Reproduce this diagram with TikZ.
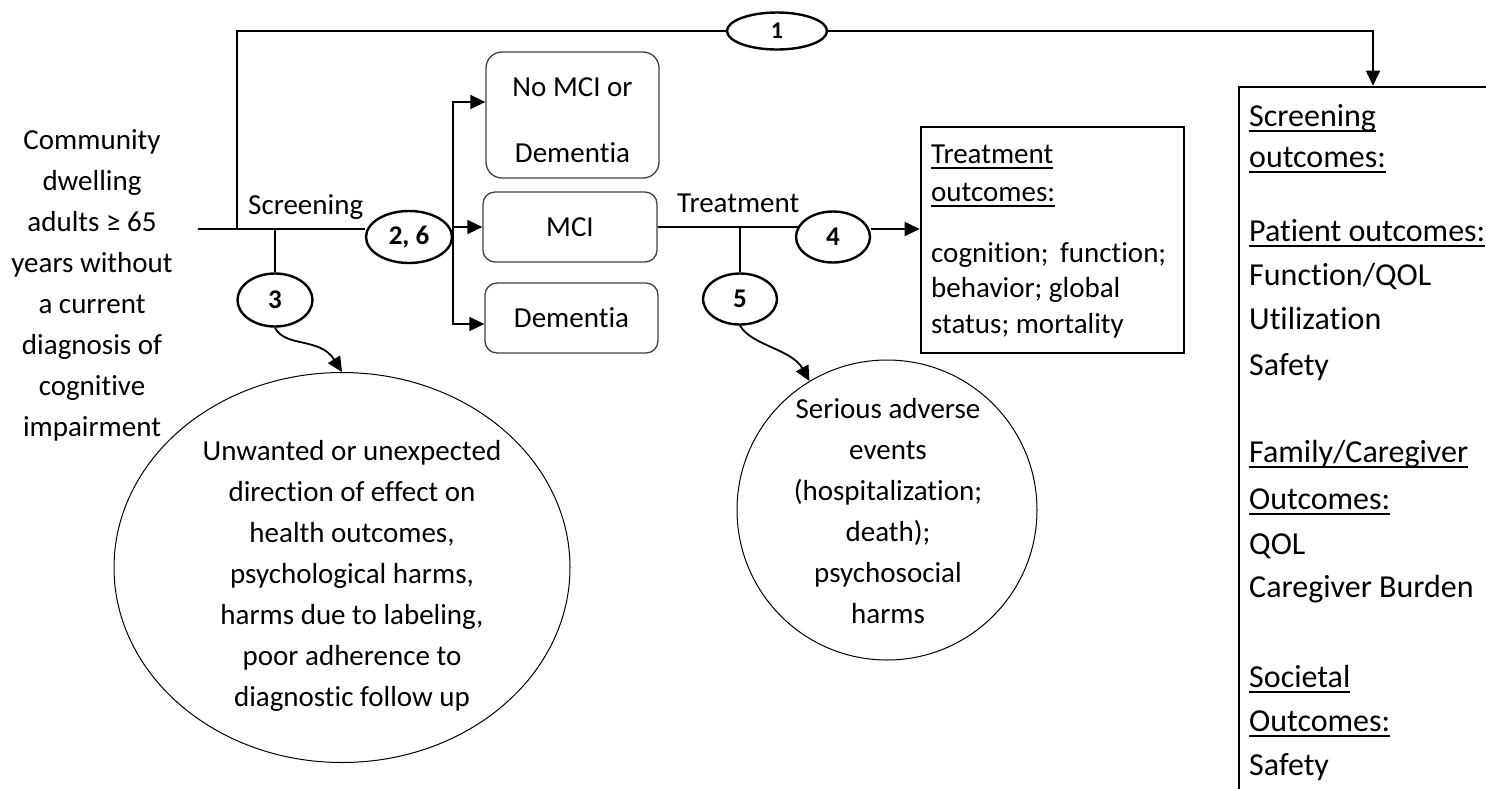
\documentclass[tikz,border=0pt]{standalone}
\usepackage{fontspec}
\setmainfont{Carlito}[Ligatures=NoCommon]
\usetikzlibrary{arrows.meta,shapes.geometric}
\newcommand\ulz[1]{\leavevmode\setbox0=\hbox{#1}\dp0=0pt\vtop{\box0\kern3.5pt\hrule height 2.2pt}}
\newcommand\txtf{\fontsize{29}{41}\selectfont}
\newcommand\rtxtf{\fontsize{32}{44}\selectfont}
\newcommand\labf{\fontsize{27}{32}\selectfont\bfseries}
\begin{document}
\begin{tikzpicture}[x=1pt,y=-1pt,
  line/.style={line width=1.8pt},
  arr/.style={line width=1.8pt,-{Triangle[length=15pt,width=14pt]}},
  num/.style={draw,ellipse,line width=2.4pt,inner sep=0pt,font=\labf},
  rbox/.style={draw=black!75,rounded corners=16pt,line width=1.3pt,inner sep=0pt,font=\txtf,align=center},
  obox/.style={draw,line width=2.6pt,inner sep=0pt},
  thinshape/.style={draw,line width=1pt,inner sep=0pt},
  tx/.style={font=\txtf,align=center,inner sep=0pt},
  tl/.style={font=\txtf,anchor=base west,inner sep=0pt},
  rt/.style={font=\rtxtf,anchor=base west,inner sep=0pt},
]
\useasboundingbox (0,0) rectangle (1486,788);

% population
\node[tx] (pop) at (92,285) {Community\\dwelling\\adults ≥ 65\\years without\\a current\\diagnosis of\\cognitive\\impairment};
\node[tl] (scr) at (248,214) {Screening};
\node[tl] (trt) at (677,212) {Treatment};

% numbered ellipses
\node[num,minimum width=100pt,minimum height=37pt,font=\fontsize{24}{28}\selectfont\bfseries] (e1) at (777,31) {1};
\node[num,minimum width=86pt,minimum height=52pt] (e26) at (409,237) {2, 6};
\node[num,minimum width=75pt,minimum height=53pt] (e3) at (275,300) {3};
\node[num,minimum width=74pt,minimum height=51pt] (e4) at (833,237) {4};
\node[num,minimum width=74pt,minimum height=51pt] (e5) at (740,299) {5};

% diagnosis boxes
\node[rbox,minimum width=173pt,minimum height=126pt] (nomci) at (572.5,115) {\strut No MCI or\\[25pt]Dementia};
\node[rbox,minimum width=174pt,minimum height=70pt,rounded corners=12pt] (mci) at (570,227) {MCI};
\node[rbox,minimum width=173pt,minimum height=70pt,rounded corners=12pt] (dem) at (571.5,318) {Dementia};

% treatment outcomes box
\node[obox,minimum width=263pt,minimum height=226pt] (tbox) at (1052.5,240) {};
\node[tl] (th1) at (931,163) {\ulz{Treatment}};
\node[tl] (th2) at (931,201) {\ulz{outcomes:}};
\node[tl] (tb1) at (931,262) {cognition;\, function;};
\node[tl] (tb2) at (931,297) {behavior; global};
\node[tl] (tb3) at (931,333) {status; mortality};

% screening outcomes box
\node[obox,minimum width=268pt,minimum height=760pt] (sbox) at (1373,467) {};
\node[rt] (s1) at (1249,126) {\ulz{Screening}};
\node[rt] (s2) at (1249,167) {\ulz{outcomes:}};
\node[rt] (s3) at (1249,241) {\ulz{Patient outcomes:}};
\node[rt] (s4) at (1249,285) {Function/QOL};
\node[rt] (s5) at (1249,329) {Utilization};
\node[rt] (s6) at (1249,375) {Safety};
\node[rt] (s7) at (1249,462) {\ulz{Family/Caregiver}};
\node[rt] (s8) at (1249,509) {\ulz{Outcomes:}};
\node[rt] (s9) at (1249,554) {QOL};
\node[rt] (s10) at (1249,597) {Caregiver Burden};
\node[rt] (s11) at (1249,687) {\ulz{Societal}};
\node[rt] (s12) at (1249,731) {\ulz{Outcomes:}};
\node[rt] (s13) at (1249,775) {Safety};

% harms
\node[thinshape,ellipse,minimum width=456pt,minimum height=390pt] (harm3) at (342,567.5) {};
\node[tx] (harm3t) at (352,576) {Unwanted or unexpected\\direction of effect on\\health outcomes,\\psychological harms,\\harms due to labeling,\\poor adherence to\\diagnostic follow up};
\node[thinshape,circle,minimum size=300pt] (harm5) at (887,510) {};
\node[tx] (harm5t) at (888,511) {Serious adverse\\events\\(hospitalization;\\death);\\psychosocial\\harms};

% connectors
\coordinate (start) at (198,229);
\coordinate (split) at (237,229);
\draw[line] (start) -- (start -| e26.west);
\draw[line] (split) |- (e1.west);
\draw[arr] (e1.east) -| (sbox.north);
\draw[line] (e3.north |- start) -- (e3.north);
\draw[arr] (e26.east |- mci.west) -- (mci.west);
\draw[arr] (e26.east) |- ([yshift=13pt]nomci.west);
\draw[arr] (e26.east) |- ([yshift=-6pt]dem.west);
\path (e4.west |- mci.east) coordinate (t4a);
\draw[line] (mci.east) -- ([xshift=3pt]t4a);
\draw[line] (e5.north |- mci.east) -- (e5.north);
\coordinate (e4r) at ([yshift=8pt]e4.east);
\draw[arr] (e4r) -- (e4r -| tbox.west);
\draw[arr] (e3.south) .. controls +(10,20) and +(-22,-35) .. (harm3.north);
\draw[arr] (e5.south) .. controls +(12,20) and +(-18,-32) .. (harm5.121);
\end{tikzpicture}
\end{document}
